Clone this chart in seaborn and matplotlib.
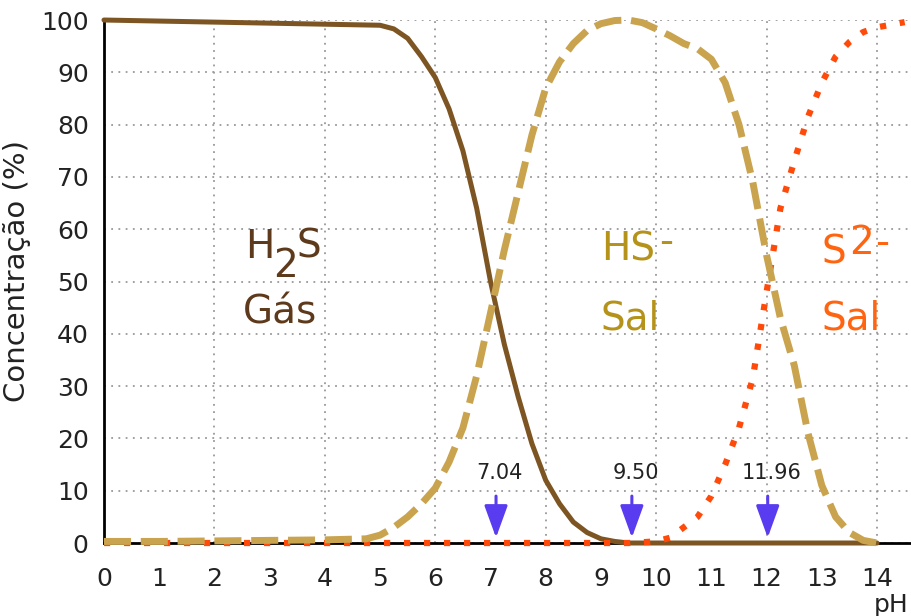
import numpy as np
import pandas as pd
import matplotlib
matplotlib.use("Agg")
import matplotlib.pyplot as plt
import seaborn as sns
from matplotlib.ticker import MultipleLocator

# Species distribution (pH vs %)
h2s_ph = [0, 1, 2, 3, 4, 5, 5.25, 5.5, 5.75, 6, 6.25, 6.5, 6.75, 7, 7.25, 7.5,
          7.75, 8, 8.25, 8.5, 8.75, 9, 9.25, 9.5, 10, 11, 12, 13, 14]
h2s_pct = [100, 99.8, 99.6, 99.4, 99.2, 99, 98.3, 96.5, 93, 89, 83, 75, 64, 50,
           38, 28, 19, 12, 7.5, 4, 2, 0.8, 0.3, 0, 0, 0, 0, 0, 0]

hs_ph = [0, 1, 2, 3, 4, 4.75, 5, 5.25, 5.5, 5.75, 6, 6.25, 6.5, 6.75, 7, 7.25,
         7.5, 7.75, 8, 8.25, 8.5, 8.75, 9, 9.25, 9.5, 9.75, 10, 10.25, 10.5,
         10.75, 11, 11.25, 11.5, 11.75, 12, 12.25, 12.5, 12.75, 13, 13.25,
         13.5, 13.75, 14]
hs_pct = [0.3, 0.3, 0.4, 0.5, 0.6, 0.8, 1.5, 3, 5, 7.5, 10.5, 15.5, 22, 32, 44,
          56, 67, 78, 87, 92, 95.5, 98, 99.3, 99.9, 100, 99.5, 98.3, 97, 95.5,
          94.5, 92.5, 88, 80, 69, 55, 43, 34, 21, 11, 5, 2, 0.5, 0]

s2_ph = [0, 2, 4, 6, 8, 9.5, 10, 10.25, 10.5, 10.75, 11, 11.25, 11.5, 11.75,
         12, 12.25, 12.5, 12.75, 13, 13.25, 13.5, 13.75, 14, 14.5]
s2_pct = [0, 0, 0, 0, 0, 0, 0.3, 1, 3, 5, 9, 15, 22, 31.5, 48, 64, 73, 81.5,
          88, 93, 95.8, 97.7, 98.6, 99.6]

pka_values = [7.04, 9.50, 11.96]
pka_labels = ["7.04", "9.50", "11.96"]

h2s = pd.DataFrame({"pH": h2s_ph, "pct": h2s_pct})
hs = pd.DataFrame({"pH": hs_ph, "pct": hs_pct})
s2 = pd.DataFrame({"pH": s2_ph, "pct": s2_pct})

sns.set_style("white")
plt.rcParams["font.family"] = ["DejaVu Sans"]

fig = plt.figure(figsize=(9.12, 6.16), dpi=100)
ax = fig.add_axes([0.114, 0.1185, 0.884, 0.849])

c_brown = "#7d5523"
c_tan = "#c9a34e"
c_red = "#ff4a0a"
c_blue = "#5a3cf0"

sns.lineplot(data=h2s, x="pH", y="pct", ax=ax, color=c_brown, lw=3.6,
             clip_on=False, zorder=3)
sns.lineplot(data=s2, x="pH", y="pct", ax=ax, color=c_red, lw=4.5,
             linestyle=(0, (1, 2.2)), clip_on=False, zorder=4)
sns.lineplot(data=hs, x="pH", y="pct", ax=ax, color=c_tan, lw=5,
             linestyle=(0, (3.9, 1.4)), clip_on=False, zorder=5)

# pKa markers (arrows sit a hair right of the value in the original)
for v, lab in zip(pka_values, pka_labels):
    ax.annotate("", xy=(v + 0.06, 0.5), xytext=(v + 0.06, 9.5),
                arrowprops=dict(arrowstyle="-|>,head_length=0.55,head_width=0.2",
                                color=c_blue, lw=2.2, mutation_scale=36),
                zorder=6)
    ax.text(v + 0.13, 13.4, lab, ha="center", va="center", fontsize=15,
            color="#222222")

# species labels
c_h2s_txt = "#5e3a1c"
c_hs_txt = "#b5931a"
c_s2_txt = "#ff6410"
big = 28
ax.text(2.55, 56.6, "H", color=c_h2s_txt, fontsize=big, ha="left", va="center")
ax.text(3.06, 53.0, "2", color=c_h2s_txt, fontsize=big, ha="left", va="center")
ax.text(3.48, 56.6, "S", color=c_h2s_txt, fontsize=big, ha="left", va="center")
ax.text(2.51, 44, "Gás", color=c_h2s_txt, fontsize=big, ha="left", va="center")

ax.text(9.0, 56.2, "HS", color=c_hs_txt, fontsize=big, ha="left", va="center")
ax.text(10.18, 57.6, "-", color=c_hs_txt, fontsize=big, ha="center", va="center")
ax.text(9.0, 42.9, "Sal", color=c_hs_txt, fontsize=big, ha="left", va="center")

ax.text(13.0, 55.6, "S", color=c_s2_txt, fontsize=big, ha="left", va="center")
ax.text(13.5, 57.4, "2", color=c_s2_txt, fontsize=big, ha="left", va="center")
ax.text(14.1, 57.4, "-", color=c_s2_txt, fontsize=big, ha="center", va="center")
ax.text(13.0, 42.9, "Sal", color=c_s2_txt, fontsize=big, ha="left", va="center")

ax.set_xlim(0, 14.6)
ax.set_ylim(0, 100)
ax.set_xticks(range(0, 15))
ax.set_yticks(range(0, 101, 10))
ax.xaxis.set_minor_locator(MultipleLocator(2))
ax.xaxis.remove_overlapping_locs = False
ax.grid(False)
ax.grid(axis="y", which="major", color="#999999", linestyle=(0, (1, 3)), lw=1.3)
ax.grid(axis="x", which="minor", color="#999999", linestyle=(0, (1, 3)), lw=1.3)
ax.set_axisbelow(True)
ax.tick_params(axis="both", which="both", length=0)
ax.tick_params(axis="x", labelsize=18, pad=17, colors="#222222")
ax.tick_params(axis="y", labelsize=18, pad=11, colors="#222222")

for side in ["top", "right"]:
    ax.spines[side].set_visible(False)
for side in ["left", "bottom"]:
    ax.spines[side].set_color("black")
    ax.spines[side].set_linewidth(2)

ax.set_xlabel("")
ax.set_ylabel("Concentração (%)", fontsize=21, color="#222222")
ax.yaxis.set_label_coords(-0.09, 0.52)
ax.text(0.976, -0.119, "pH", transform=ax.transAxes, ha="center", va="center",
        fontsize=18, color="#222222")

fig.savefig("out.png", dpi=100)
